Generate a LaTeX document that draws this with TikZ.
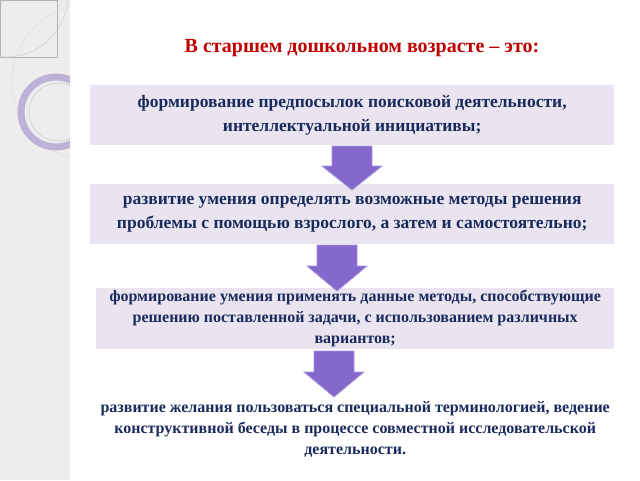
\documentclass[tikz,border=0pt]{standalone}
\usepackage{fontspec}
\setmainfont{Liberation Serif}
\definecolor{boxfill}{HTML}{E9E4F0}
\definecolor{txt}{HTML}{1A2A5C}
\definecolor{arr}{HTML}{8468CC}
\definecolor{ttl}{HTML}{C00000}
\definecolor{ring}{HTML}{BDB2D6}
\begin{document}
\begin{tikzpicture}[x=1pt,y=-1pt,
  box/.style={fill=boxfill,draw=none,minimum width=#1,minimum height=60pt,align=center,text=txt,font=\bfseries,anchor=north west,inner sep=1pt},
  darrow/.style={fill=arr,draw=arr!70!white,line width=0.8pt}]
\useasboundingbox (0,0) rectangle (640,480);
\fill[white] (0,0) rectangle (640,480);
\fill[gray!14] (0,0) rectangle (70,480);
\begin{scope}
\clip (0,0) rectangle (70,480);
\draw[gray!60,line width=0.4pt] (0,0) rectangle (57,57);
\draw[gray!25,line width=0.6pt] (90,82) circle (78);
\draw[ring,line width=7pt] (56,112) circle (35);
\draw[gray!40,line width=0.5pt] (58,112) circle (29);
\draw[gray!40,line width=0.5pt] (6,-5) circle (62);
\end{scope}
\node[text=ttl,font=\bfseries\fontsize{20}{22}\selectfont] (t) at (362,48) {В старшем дошкольном возрасте – это:};
\node[box=524pt,font=\bfseries\fontsize{17.5}{24}\selectfont] (b1) at (90,85) {формирование предпосылок поисковой деятельности,\\интеллектуальной инициативы;};
\node[box=524pt,font=\bfseries\fontsize{17.5}{24}\selectfont] (b2) at (90,184) {развитие умения определять возможные методы решения\\проблемы с помощью взрослого, а затем и самостоятельно;};
\node[box=518pt,font=\bfseries\fontsize{16}{21}\selectfont,minimum height=61pt] (b3) at (96,288) {формирование умения применять данные методы, способствующие\\решению поставленной задачи, с использованием различных\\вариантов;};
\node[box=518pt,fill=white,font=\bfseries\fontsize{16}{21}\selectfont,minimum height=64pt] (b4) at (96,397) {развитие желания пользоваться специальной терминологией, ведение\\конструктивной беседы в процессе совместной исследовательской\\деятельности.};
\draw[darrow] (332,146) -- (372,146) -- (372,166) -- (382,166) -- (352,190) -- (322,166) -- (332,166) -- cycle;
\draw[darrow] (317,245) -- (357,245) -- (357,266) -- (367,266) -- (337,291) -- (307,266) -- (317,266) -- cycle;
\draw[darrow] (314,351) -- (354,351) -- (354,372) -- (364,372) -- (334,397) -- (304,372) -- (314,372) -- cycle;
\end{tikzpicture}
\end{document}
